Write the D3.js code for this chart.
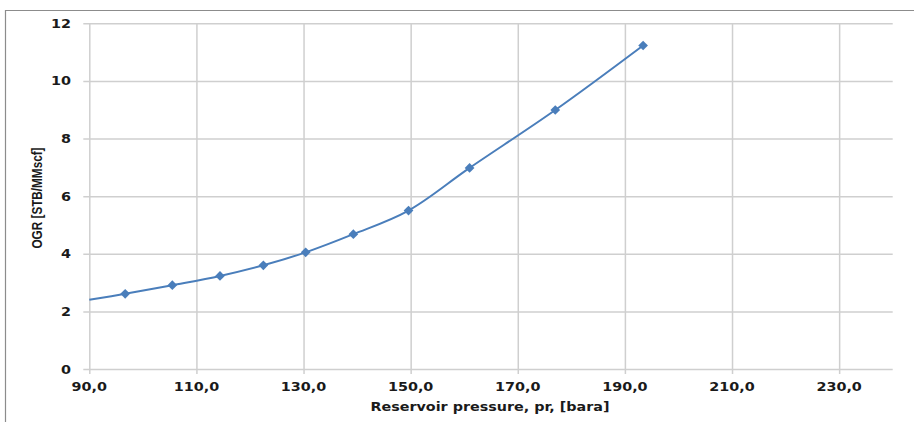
<!DOCTYPE html>
<html>
<head>
<meta charset="utf-8">
<script src="https://cdn.jsdelivr.net/npm/d3@7"></script>
<style>
  body { margin: 0; background: #fff; }
  svg { display: block; }
</style>
</head>
<body>
<div id="chart"></div>
<script>
// pressure (bara) and OGR (STB/MMscf)
const pressure = [96.7, 105.5, 114.4, 122.5, 130.4, 139.3, 149.6, 161.0, 177.0, 193.4];
const ogr = [2.61, 2.91, 3.23, 3.60, 4.05, 4.68, 5.50, 6.98, 8.99, 11.23];
// the smoothed line starts at the left edge, no marker there
const lineStart = [90, 2.40];

const xTicks = [90, 110, 130, 150, 170, 190, 210, 230];
const yTicks = [0, 2, 4, 6, 8, 10, 12];

const width = 914, height = 422;
const margin = { left: 89.3, right: 21.3, top: 23.3, bottom: 53 };
const blue = '#4a7ebb';

const svg = d3.select('#chart')
  .append('svg')
  .attr('width', width)
  .attr('height', height);

// outer frame (only top and left edges show)
svg.append('path')
  .attr('d', `M5.5,${height} V10.5 H${width}`)
  .attr('fill', 'none')
  .attr('stroke', '#8c8c8c')
  .attr('stroke-width', 1.2);

const x = d3.scaleLinear()
  .domain([90, 240])
  .range([margin.left, width - margin.right]);

const y = d3.scaleLinear()
  .domain([0, 12])
  .range([height - margin.bottom, margin.top]);

const fmt = d => d.toFixed(1).replace('.', ',');

// the source text is rendered wide, so stretch glyphs a little
function widen(sel, k) {
  sel.each(function() {
    const w = this.getComputedTextLength();
    d3.select(this).attr('textLength', w * k).attr('lengthAdjust', 'spacingAndGlyphs');
  });
}

// vertical grid + ticks
svg.append('g')
  .attr('transform', `translate(0,${y(0)})`)
  .call(d3.axisBottom(x)
    .tickValues(xTicks)
    .tickSize(-(y(0) - y(12)))
    .tickSizeOuter(0)
    .tickFormat(''))
  .call(g => g.select('.domain').remove())
  .call(g => g.selectAll('.tick line')
    .attr('stroke', '#cfcfcf')
    .attr('stroke-width', 1.5)
    .attr('y1', 5));

// horizontal grid + ticks
svg.append('g')
  .attr('transform', `translate(${x(90)},0)`)
  .call(d3.axisLeft(y)
    .tickValues(yTicks)
    .tickSize(-(x(240) - x(90)))
    .tickSizeOuter(0)
    .tickFormat(''))
  .call(g => g.select('.domain').remove())
  .call(g => g.selectAll('.tick line')
    .attr('stroke', '#cfcfcf')
    .attr('stroke-width', 1.5)
    .attr('x1', -6));

// tick labels
svg.append('g')
  .selectAll('text')
  .data(xTicks)
  .join('text')
  .attr('x', d => x(d))
  .attr('y', y(0) + 22)
  .attr('text-anchor', 'middle')
  .attr('font-family', 'DejaVu Sans')
  .attr('font-weight', 'bold')
  .attr('font-size', 12.5)
  .attr('fill', '#1a1a1a')
  .text(fmt)
  .call(widen, 1.15);

svg.append('g')
  .selectAll('text')
  .data(yTicks)
  .join('text')
  .attr('x', 71)
  .attr('y', d => y(d))
  .attr('dy', '0.36em')
  .attr('text-anchor', 'end')
  .attr('font-family', 'DejaVu Sans')
  .attr('font-weight', 'bold')
  .attr('font-size', 12.5)
  .attr('fill', '#1a1a1a')
  .text(d => d)
  .call(widen, 1.15);

// axis titles
svg.append('text')
  .attr('x', 490)
  .attr('y', 411)
  .attr('text-anchor', 'middle')
  .attr('font-family', 'DejaVu Sans')
  .attr('font-weight', 'bold')
  .attr('font-size', 12.5)
  .attr('fill', '#1a1a1a')
  .attr('textLength', 239)
  .attr('lengthAdjust', 'spacingAndGlyphs')
  .text('Reservoir pressure, pr, [bara]');

svg.append('text')
  .attr('transform', 'translate(42,198) rotate(-90)')
  .attr('text-anchor', 'middle')
  .attr('font-family', 'Liberation Sans, sans-serif')
  .attr('font-weight', 'bold')
  .attr('font-size', 14)
  .attr('fill', '#1a1a1a')
  .attr('textLength', 101)
  .attr('lengthAdjust', 'spacingAndGlyphs')
  .text('OGR [STB/MMscf]');

// series
const pts = pressure.map((p, i) => [p, ogr[i]]);
const line = d3.line()
  .x(d => x(d[0]))
  .y(d => y(d[1]))
  .curve(d3.curveCatmullRom.alpha(0.5));

svg.append('path')
  .datum([lineStart, ...pts])
  .attr('d', line)
  .attr('fill', 'none')
  .attr('stroke', blue)
  .attr('stroke-width', 2);

svg.append('g')
  .selectAll('path')
  .data(pts)
  .join('path')
  .attr('transform', d => `translate(${x(d[0])},${y(d[1])})`)
  .attr('d', d3.symbol(d3.symbolDiamond2, 60))
  .attr('fill', blue);
</script>
</body>
</html>
